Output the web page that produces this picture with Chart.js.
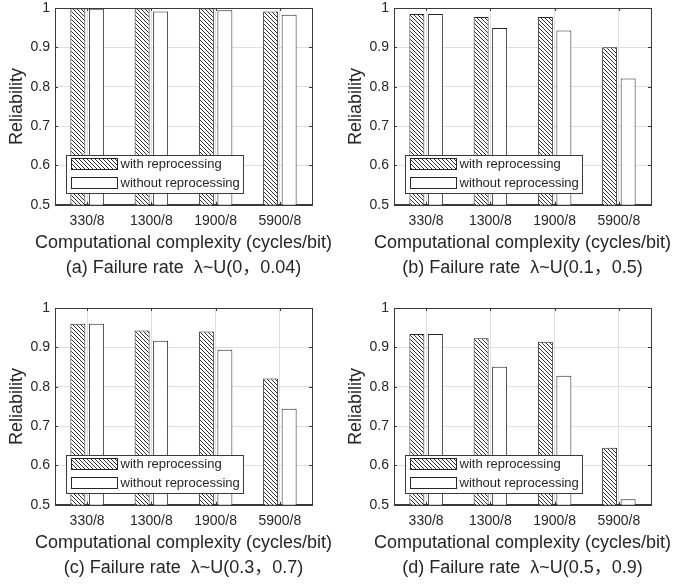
<!DOCTYPE html>
<html>
<head>
<meta charset="utf-8">
<script src="https://cdn.jsdelivr.net/npm/chart.js@4/dist/chart.umd.min.js"></script>
<style>
  html, body { margin: 0; padding: 0; background: #fff; }
  body { width: 674px; height: 587px; position: relative; overflow: hidden; }
  canvas { position: absolute; }
</style>
</head>
<body>
<canvas id="ca" width="367" height="290" style="left:0px;top:0px"></canvas>
<canvas id="cb" width="367" height="290" style="left:339px;top:0px"></canvas>
<canvas id="cc" width="367" height="290" style="left:0px;top:300px"></canvas>
<canvas id="cd" width="367" height="290" style="left:339px;top:300px"></canvas>
<script>
// ---- data ----
const categories = ['330/8', '1300/8', '1900/8', '5900/8'];
const seriesLabels = ['with reprocessing', 'without reprocessing'];
const withA    = [0.999, 0.999, 0.999, 0.991];
const withoutA = [0.998, 0.991, 0.994, 0.983];
const withB    = [0.985, 0.977, 0.977, 0.900];
const withoutB = [0.985, 0.949, 0.943, 0.821];
const withC    = [0.960, 0.943, 0.940, 0.821];
const withoutC = [0.960, 0.917, 0.894, 0.744];
const withD    = [0.934, 0.923, 0.914, 0.645];
const withoutD = [0.934, 0.851, 0.828, 0.514];
const captions = [
  '(a) Failure rate  \u03bb~U(0\uff0c0.04)',
  '(b) Failure rate  \u03bb~U(0.1\uff0c0.5)',
  '(c) Failure rate  \u03bb~U(0.3\uff0c0.7)',
  '(d) Failure rate  \u03bb~U(0.5\uff0c0.9)'
];
const xTitle = 'Computational complexity (cycles/bit)';
const yTitle = 'Reliability';
const yMin = 0.5, yMax = 1, yStep = 0.1;

// ---- styles ----
const FONT = "'Liberation Sans', Arial, 'Noto Sans CJK SC', sans-serif";
const TXT = '#262626';
const AXIS = '#3a3a3a';
const GRID = '#dfdfdf';

function makeHatch() {
  const s = 4;
  const c = document.createElement('canvas');
  c.width = s; c.height = s;
  const g = c.getContext('2d');
  g.fillStyle = '#fff';
  g.fillRect(0, 0, s, s);
  g.strokeStyle = '#303030';
  g.lineWidth = 1;
  g.beginPath();
  for (const k of [-s, 0, s]) {
    g.moveTo(0, k);
    g.lineTo(s, s + k);
  }
  g.stroke();
  return g.createPattern(c, 'repeat');
}
const hatch = makeHatch();

const boxPlugin = {
  id: 'axbox',
  afterDatasetsDraw(chart) {
    const {ctx, chartArea: a, scales} = chart;
    ctx.save();
    ctx.strokeStyle = AXIS;
    ctx.lineWidth = 1;
    ctx.beginPath();
    const y = scales.y;
    y.ticks.forEach(t => {
      const py = Math.round(y.getPixelForValue(t.value)) + 0.5;
      ctx.moveTo(a.left, py); ctx.lineTo(a.left + 3, py);
      ctx.moveTo(a.right, py); ctx.lineTo(a.right - 3, py);
    });
    const x = scales.x;
    categories.forEach((c, i) => {
      const px = Math.round(x.getPixelForValue(i)) + 0.5;
      ctx.moveTo(px, a.bottom); ctx.lineTo(px, a.bottom - 3);
      ctx.moveTo(px, a.top); ctx.lineTo(px, a.top + 3);
    });
    ctx.stroke();
    ctx.strokeRect(Math.round(a.left) + 0.5, Math.round(a.top) + 0.5,
                   Math.round(a.right - a.left), Math.round(a.bottom - a.top));
    ctx.restore();
  }
};

const legendPlugin = {
  id: 'insideLegend',
  afterDatasetsDraw(chart) {
    const {ctx, chartArea: a} = chart;
    const bx = Math.round(a.left) + 11.5, bw = 177, bh = 38;
    const by = Math.round(a.bottom) - 12 - bh + 0.5;
    ctx.save();
    ctx.fillStyle = '#fff';
    ctx.fillRect(bx, by, bw, bh);
    ctx.strokeStyle = AXIS;
    ctx.lineWidth = 1;
    ctx.strokeRect(bx, by, bw, bh);
    ctx.font = '13px ' + FONT;
    ctx.textBaseline = 'middle';
    ctx.textAlign = 'left';
    chart.data.datasets.forEach((ds, i) => {
      const sy = by + 3 + i * 19;
      ctx.fillStyle = ds.backgroundColor;
      ctx.fillRect(bx + 5, sy, 46, 11);
      ctx.strokeStyle = '#262626';
      ctx.strokeRect(bx + 5, sy, 46, 11);
      ctx.fillStyle = TXT;
      ctx.fillText(ds.label, bx + 54, sy + 6);
    });
    ctx.restore();
  }
};

function makeChart(id, withVals, withoutVals, caption) {
  return new Chart(document.getElementById(id), {
    type: 'bar',
    data: {
      labels: categories,
      datasets: [
        { label: seriesLabels[0], data: withVals, backgroundColor: hatch,
          borderColor: '#262626', borderWidth: 1 },
        { label: seriesLabels[1], data: withoutVals, backgroundColor: '#ffffff',
          borderColor: '#262626', borderWidth: 1 }
      ]
    },
    options: {
      responsive: false,
      animation: false,
      devicePixelRatio: 1,
      layout: { padding: 0 },
      datasets: { bar: { categoryPercentage: 0.576, barPercentage: 0.81 } },
      plugins: {
        legend: { display: false },
        tooltip: { enabled: false },
        subtitle: {
          display: true, position: 'bottom', text: xTitle, color: TXT,
          font: { family: FONT, size: 18, weight: 'normal' },
          padding: { top: 0, bottom: 4 }
        },
        title: {
          display: true, position: 'bottom', text: caption, color: TXT,
          font: { family: FONT, size: 18, weight: 'normal' },
          padding: { top: 0, bottom: 11 }
        }
      },
      scales: {
        x: {
          grid: { offset: false, color: GRID, drawTicks: false },
          border: { color: AXIS },
          ticks: { color: TXT, font: { family: FONT, size: 14 }, padding: 8, maxRotation: 0 },
          afterFit: s => { s.height = 27; }
        },
        y: {
          min: yMin, max: yMax,
          grid: { color: GRID, drawTicks: false },
          border: { color: AXIS },
          ticks: { stepSize: yStep, color: TXT, font: { family: FONT, size: 14 }, padding: 5,
                   callback: v => String(Number(v.toFixed(1))) },
          title: { display: true, text: yTitle, color: TXT,
                   font: { family: FONT, size: 18 }, padding: { top: 6, bottom: 0 } },
          afterFit: s => { s.width = 55; s.paddingTop = 8; s.paddingBottom = 8; }
        },
        yRight: {
          position: 'right', display: true,
          grid: { display: false }, border: { display: false },
          ticks: { display: false },
          afterFit: s => { s.width = 55; s.paddingTop = 0; s.paddingBottom = 0; }
        }
      }
    },
    plugins: [boxPlugin, legendPlugin]
  });
}

makeChart('ca', withA, withoutA, captions[0]);
makeChart('cb', withB, withoutB, captions[1]);
makeChart('cc', withC, withoutC, captions[2]);
makeChart('cd', withD, withoutD, captions[3]);
</script>
</body>
</html>
